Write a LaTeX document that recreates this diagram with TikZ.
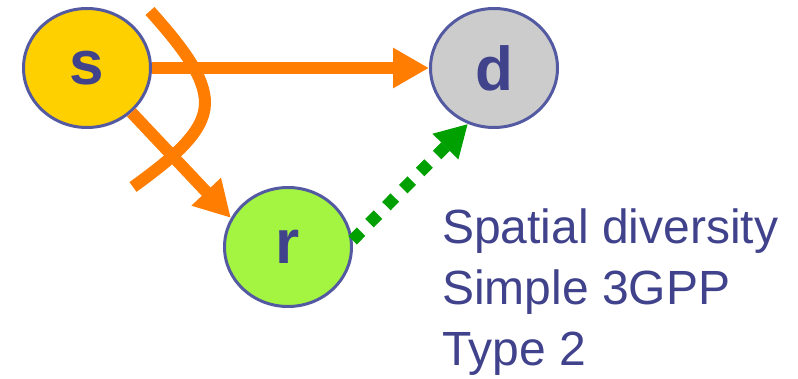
\documentclass[tikz,border=0pt]{standalone}
\usepackage{fontspec}
\setmainfont{Liberation Sans}
\usetikzlibrary{shapes.geometric,arrows.meta}
\definecolor{nodeline}{RGB}{84,90,162}
\definecolor{labelblue}{RGB}{64,66,140}
\definecolor{sgold}{RGB}{255,208,0}
\definecolor{rlime}{RGB}{164,245,66}
\definecolor{dgray}{RGB}{204,204,204}
\definecolor{linkorange}{RGB}{255,125,0}
\definecolor{linkgreen}{RGB}{0,160,0}
\begin{document}
\begin{tikzpicture}[x=1pt,y=1pt,
	station/.style={ellipse, draw=nodeline, line width=3pt, minimum width=127pt, minimum height=119pt, inner sep=0pt, text=labelblue, font=\fontsize{62}{62}\bfseries\selectfont},
	direct/.style={line width=12pt, linkorange, -{Triangle[length=36pt,width=38pt]}},
	relayed/.style={line width=12pt, linkgreen, dash pattern=on 12pt off 12pt, -{Triangle[length=32pt,width=34pt]}}]
	\useasboundingbox (0,0) rectangle (798,378);
	\node [station, fill=sgold] (s) at (87,310) {s};
	\node [station, fill=dgray] (d) at (494,310) {d};
	\node [station, fill=rlime] (r) at (288,131) {r};
	\draw [direct] (s.east) -- (d.west);
	\draw [direct] (s.-45) -- (r.153);
	\draw [relayed] (r.6) -- (d.245);
	% the cut across both links
	\draw [line width=12pt, linkorange] (150,367) .. controls (185,328) and (205,300) .. (205,275) .. controls (205,245) and (170,218) .. (133,191);
	\node [anchor=base west, inner sep=0pt, align=left, text=labelblue, font=\fontsize{48}{61}\selectfont] (notes) at (442,13) {Spatial diversity\\Simple 3GPP\\Type 2};
\end{tikzpicture}
\end{document}
